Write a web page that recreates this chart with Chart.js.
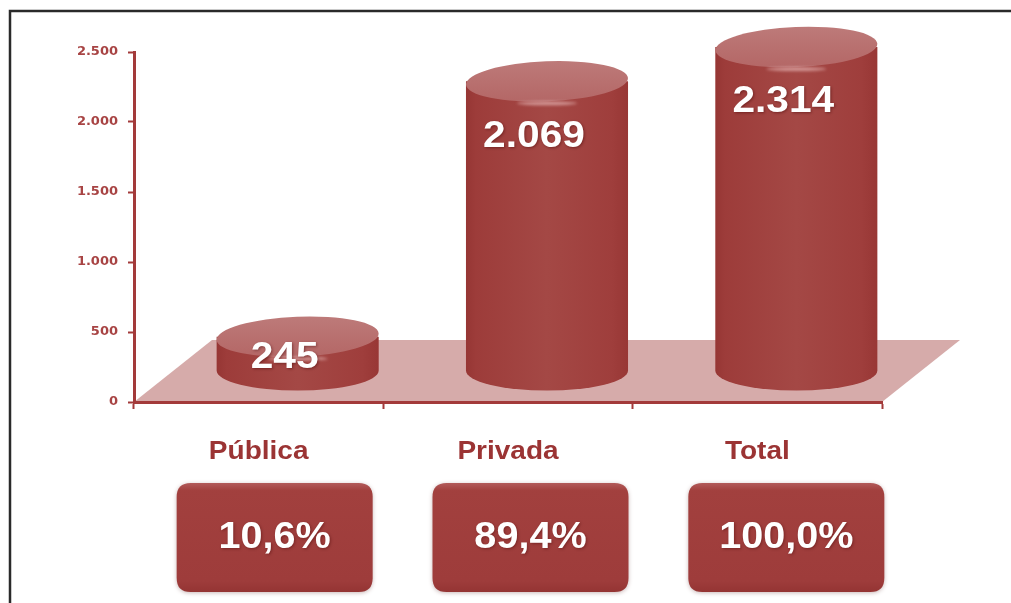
<!DOCTYPE html>
<html>
<head>
<meta charset="utf-8">
<script src="https://cdn.jsdelivr.net/npm/chart.js@4.4.1/dist/chart.umd.min.js"></script>
<style>
html, body { margin: 0; padding: 0; background: #fff; }
canvas { display: block; }
</style>
</head>
<body>
<canvas id="chart" width="1011" height="603"></canvas>
<script>
// data
const categories = ["Pública", "Privada", "Total"];
const values = [245, 2069, 2314];
const shares = ["10,6%", "89,4%", "100,0%"];
const yTicks = [0, 500, 1000, 1500, 2000, 2500];

const AXIS = "#a33a3a";
const TEXT_RED = "#9b3434";
// floor depth (back edge offset), cylinders sit half way in
const DEPTH_X = 78;
const DEPTH_Y = -62;

const fmt = v => String(v).replace(/\B(?=(\d{3})+(?!\d))/g, ".");

function stretchedText(ctx, text, x, y, font, color, sx) {
	ctx.save();
	ctx.translate(x, y);
	ctx.scale(sx, 1);
	ctx.font = font;
	ctx.fillStyle = color;
	ctx.textAlign = "center";
	ctx.textBaseline = "middle";
	ctx.fillText(text, 0, 0);
	ctx.restore();
}

function roundRectPath(ctx, x, y, w, h, r) {
	ctx.beginPath();
	ctx.moveTo(x + r, y);
	ctx.lineTo(x + w - r, y);
	ctx.quadraticCurveTo(x + w, y, x + w, y + r);
	ctx.lineTo(x + w, y + h - r);
	ctx.quadraticCurveTo(x + w, y + h, x + w - r, y + h);
	ctx.lineTo(x + r, y + h);
	ctx.quadraticCurveTo(x, y + h, x, y + h - r);
	ctx.lineTo(x, y + r);
	ctx.quadraticCurveTo(x, y, x + r, y);
	ctx.closePath();
}

const backdrop = {
	id: "backdrop",
	beforeDraw(chart) {
		const { ctx } = chart;
		const { x, y } = chart.scales;
		ctx.save();
		ctx.fillStyle = "#fff";
		ctx.fillRect(0, 0, chart.width, chart.height);
		// frame
		ctx.strokeStyle = "#2a2a2a";
		ctx.lineWidth = 2.5;
		ctx.beginPath();
		ctx.moveTo(10, chart.height);
		ctx.lineTo(10, 11);
		ctx.lineTo(chart.width, 11);
		ctx.stroke();
		// floor
		const b = y.getPixelForValue(0);
		ctx.fillStyle = "#d6abaa";
		ctx.beginPath();
		ctx.moveTo(x.left, b);
		ctx.lineTo(x.right, b);
		ctx.lineTo(x.right + DEPTH_X, b + DEPTH_Y);
		ctx.lineTo(x.left + DEPTH_X, b + DEPTH_Y);
		ctx.closePath();
		ctx.fill();
		ctx.restore();
	}
};

const cylinders = {
	id: "cylinders",
	afterDatasetsDraw(chart) {
		const { ctx } = chart;
		const meta = chart.getDatasetMeta(0);
		meta.data.forEach((bar, i) => {
			const { x, y, base, width } = bar.getProps(["x", "y", "base", "width"], true);
			const cx = x + DEPTH_X / 2;
			const rx = width / 2;
			const ry = 20;
			const top = y + DEPTH_Y / 2;
			const bot = base + DEPTH_Y / 2;
			ctx.save();

			// body
			const g = ctx.createLinearGradient(cx - rx, 0, cx + rx, 0);
			g.addColorStop(0, "#963634");
			g.addColorStop(0.06, "#9d3c3a");
			g.addColorStop(0.5, "#a44845");
			g.addColorStop(0.9, "#9f3e3c");
			g.addColorStop(1, "#983735");
			ctx.fillStyle = g;
			ctx.beginPath();
			ctx.moveTo(cx - rx, top);
			ctx.lineTo(cx - rx, bot);
			ctx.ellipse(cx, bot, rx, ry, 0, Math.PI, 0, true);
			ctx.lineTo(cx + rx, top);
			ctx.closePath();
			ctx.fill();

			// top
			const tg = ctx.createLinearGradient(0, top - ry, 0, top + ry);
			tg.addColorStop(0, "#bd7a79");
			tg.addColorStop(1, "#b46766");
			ctx.fillStyle = tg;
			ctx.beginPath();
			ctx.ellipse(cx, top, rx, ry, -0.04, 0, Math.PI * 2);
			ctx.fill();

			// glint under the rim
			ctx.filter = "blur(1.5px)";
			ctx.fillStyle = "rgba(255,225,225,0.5)";
			ctx.beginPath();
			ctx.ellipse(cx, top + ry + 2, 30, 2, 0, 0, Math.PI * 2);
			ctx.fill();
			ctx.filter = "none";

			// value
			const ly = Math.min(top + 55, (top + bot) / 2 + 4);
			ctx.shadowColor = "rgba(60,0,0,0.45)";
			ctx.shadowBlur = 3;
			ctx.shadowOffsetX = 1;
			ctx.shadowOffsetY = 1;
			stretchedText(ctx, fmt(values[i]), cx - 13, ly, "bold 37px 'Liberation Sans', Arial", "#fff", 1.1);
			ctx.restore();
		});
	}
};

const footer = {
	id: "footer",
	afterDraw(chart) {
		const { ctx } = chart;
		const { x } = chart.scales;
		categories.forEach((c, i) => {
			const px = x.getPixelForValue(i);
			stretchedText(ctx, c, px, 452, "bold 25px 'Liberation Sans', Arial", TEXT_RED, 1.12);

			const bw = 196, bh = 109;
			const bx = px + 16 + 6.5 * i - bw / 2, by = 483;
			ctx.save();
			ctx.shadowColor = "rgba(80,20,20,0.3)";
			ctx.shadowBlur = 4;
			ctx.shadowOffsetY = 1;
			const g = ctx.createLinearGradient(0, by, 0, by + bh);
			g.addColorStop(0, "#b25b5a");
			g.addColorStop(0.07, "#a2403e");
			g.addColorStop(0.9, "#9e3c3b");
			g.addColorStop(1, "#943433");
			ctx.fillStyle = g;
			roundRectPath(ctx, bx, by, bw, bh, 14);
			ctx.fill();
			ctx.restore();

			ctx.save();
			ctx.shadowColor = "rgba(60,0,0,0.4)";
			ctx.shadowBlur = 3;
			ctx.shadowOffsetX = 1;
			ctx.shadowOffsetY = 1;
			stretchedText(ctx, shares[i], bx + bw / 2, by + bh / 2 + 1, "bold 36px 'Liberation Sans', Arial", "#fff", 1.1);
			ctx.restore();
		});
	}
};

new Chart(document.getElementById("chart"), {
	type: "bar",
	data: {
		labels: categories,
		datasets: [{
			data: values,
			backgroundColor: "rgba(0,0,0,0)",
			barPercentage: 0.65,
			categoryPercentage: 1
		}]
	},
	options: {
		responsive: false,
		animation: false,
		devicePixelRatio: 1,
		layout: { padding: { top: 52, right: 129, left: 0, bottom: 0 } },
		plugins: { legend: { display: false }, tooltip: { enabled: false } },
		scales: {
			x: {
				afterFit(s) { s.height = 201; },
				border: { color: AXIS, width: 3 },
				grid: { drawOnChartArea: false, offset: true, tickLength: 7, tickWidth: 2, tickColor: AXIS },
				ticks: { color: "rgba(0,0,0,0)" }
			},
			y: {
				min: 0,
				max: 2500,
				afterBuildTicks(s) { s.ticks = yTicks.map(v => ({ value: v })); },
				afterFit(s) { s.width = 134; },
				border: { color: AXIS, width: 3 },
				grid: { drawOnChartArea: false, tickLength: 6, tickWidth: 2, tickColor: AXIS },
				ticks: {
					padding: 10,
					color: "#a84444",
					font: { family: "'DejaVu Sans'", size: 13, weight: "bold" },
					callback: v => fmt(v)
				}
			}
		}
	},
	plugins: [backdrop, cylinders, footer]
});
</script>
</body>
</html>
